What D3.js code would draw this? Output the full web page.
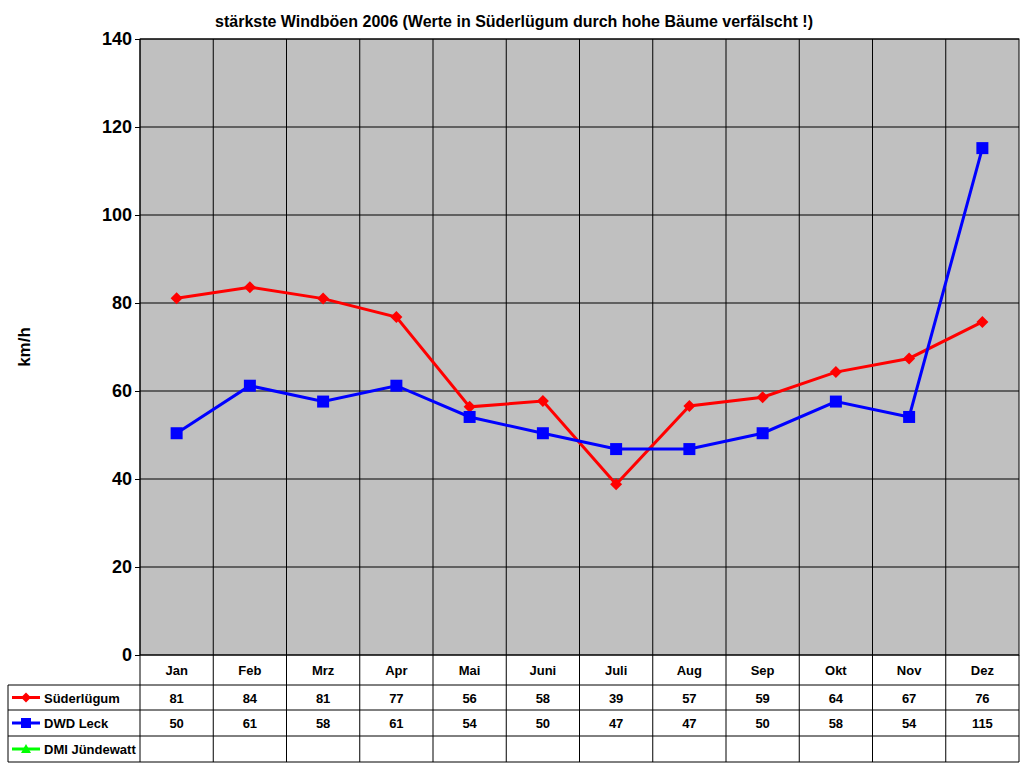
<!DOCTYPE html>
<html><head><meta charset="utf-8">
<script src="https://cdn.jsdelivr.net/npm/d3@7"></script>
<style>body{margin:0;background:#fff}svg{font-family:Arial,"Liberation Sans",sans-serif;font-weight:bold}</style>
</head><body>
<svg id="c" width="1024" height="768"></svg>
<script>
const months=["Jan","Feb","Mrz","Apr","Mai","Juni","Juli","Aug","Sep","Okt","Nov","Dez"];
const suederluegum=[81.1,83.6,81,76.8,56.4,57.7,38.8,56.6,58.6,64.3,67.4,75.7];
const dwdLeck=[50.4,61.2,57.6,61.2,54.1,50.4,46.8,46.8,50.4,57.6,54.1,115.2];
const dmi=[];
const yTicks=[0,20,40,60,80,100,120,140];
const series=[{name:"Süderlügum",vals:suederluegum,color:"#ff0000",shape:"diamond"},
{name:"DWD Leck",vals:dwdLeck,color:"#0000ff",shape:"square"},
{name:"DMI Jündewatt",vals:dmi,color:"#00ff00",shape:"triangle"}];

const svg=d3.select("#c");
const L=140,R=1019,T=39,B=655;
const x=d3.scaleBand().domain(months).range([L,R]);
const y=d3.scaleLinear().domain([0,140]).range([B,T]);
svg.append("rect").attr("x",L).attr("y",T).attr("width",R-L).attr("height",B-T).attr("fill","#c0c0c0");
yTicks.forEach(t=>svg.append("line").attr("x1",L).attr("x2",R).attr("y1",y(t)).attr("y2",y(t)).attr("stroke","#000"));
months.forEach((m,i)=>svg.append("line").attr("x1",x(m)).attr("x2",x(m)).attr("y1",T).attr("y2",B).attr("stroke","#000"));
svg.append("rect").attr("x",L).attr("y",T).attr("width",R-L).attr("height",B-T).attr("fill","none").attr("stroke","#000");
const ya=svg.append("g").attr("transform",`translate(${L},0)`).call(d3.axisLeft(y).tickValues(yTicks).tickSize(5).tickSizeOuter(0));
ya.select(".domain").remove();
ya.selectAll("text").attr("font-size",18).attr("font-weight","bold").attr("font-family","Arial,Liberation Sans");
svg.append("text").attr("transform","translate(30,347) rotate(-90)").attr("text-anchor","middle").attr("font-size",17).text("km/h");
svg.append("text").attr("x",514).attr("y",27).attr("text-anchor","middle").attr("font-size",16).text("stärkste Windböen 2006 (Werte in Süderlügum durch hohe Bäume verfälscht !)");

function marker(g,shape,cx,cy,color,s){
  if(shape==="diamond")g.append("path").attr("d",`M${cx},${cy-s}L${cx+s},${cy}L${cx},${cy+s}L${cx-s},${cy}Z`).attr("fill",color);
  else if(shape==="square")g.append("rect").attr("x",cx-s).attr("y",cy-s).attr("width",2*s).attr("height",2*s).attr("fill",color);
  else g.append("path").attr("d",`M${cx},${cy-s}L${cx+s},${cy+s*0.8}L${cx-s},${cy+s*0.8}Z`).attr("fill",color);
}
const line=d3.line().x((d,i)=>x(months[i])+x.bandwidth()/2).y(d=>y(d));
series.forEach(s=>{
  if(!s.vals.length)return;
  svg.append("path").attr("d",line(s.vals)).attr("fill","none").attr("stroke",s.color).attr("stroke-width",3);
  const g=svg.append("g");
  s.vals.forEach((v,i)=>marker(g,s.shape,x(months[i])+x.bandwidth()/2,y(v),s.color,s.shape==="square"?6:6));
});

// data table
const rows=[B,685,710,736,762];
const tl=8;
[1,2,3,4].forEach(i=>svg.append("line").attr("x1",tl).attr("x2",R).attr("y1",rows[i]).attr("y2",rows[i]).attr("stroke","#000"));
svg.append("line").attr("x1",tl).attr("x2",tl).attr("y1",685).attr("y2",762).attr("stroke","#000");
months.forEach(m=>svg.append("line").attr("x1",x(m)).attr("x2",x(m)).attr("y1",B).attr("y2",762).attr("stroke","#000"));
svg.append("line").attr("x1",R).attr("x2",R).attr("y1",B).attr("y2",762).attr("stroke","#000");
months.forEach(m=>svg.append("text").attr("x",x(m)+x.bandwidth()/2).attr("y",675).attr("text-anchor","middle").attr("font-size",13).text(m));
series.forEach((s,r)=>{
  const cy=(rows[r+1]+rows[r+2])/2;
  svg.append("line").attr("x1",12).attr("x2",40).attr("y1",cy).attr("y2",cy).attr("stroke",s.color).attr("stroke-width",3);
  marker(svg,s.shape,26,cy,s.color,5);
  svg.append("text").attr("x",44).attr("y",cy+5).attr("font-size",13).text(s.name);
  s.vals.forEach((v,i)=>svg.append("text").attr("x",x(months[i])+x.bandwidth()/2).attr("y",cy+5).attr("text-anchor","middle").attr("font-size",13).text(Math.round(v)));
});
</script></body></html>
